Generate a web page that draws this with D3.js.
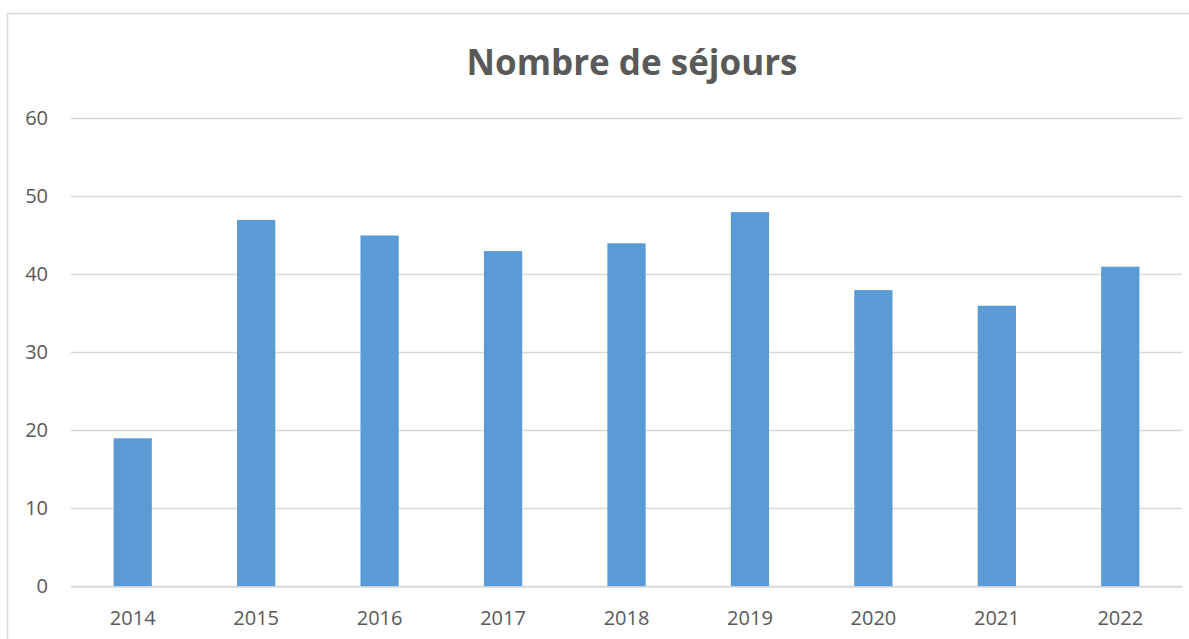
<!DOCTYPE html>
<html>
<head>
<meta charset="utf-8">
<script src="https://cdn.jsdelivr.net/npm/d3@7"></script>
<style>
  body { margin: 0; background: #fff; }
  text { font-family: "Open Sans", sans-serif; fill: #595959; }
</style>
</head>
<body>
<svg width="1189" height="639"></svg>
<script>
// donnees
var years = ["2014", "2015", "2016", "2017", "2018", "2019", "2020", "2021", "2022"];
var sejours = [19, 47, 45, 43, 44, 48, 38, 36, 41];
var yTicks = [0, 10, 20, 30, 40, 50, 60];

var svg = d3.select("svg");

// cadre du graphique
svg.append("rect")
    .attr("x", 7.5)
    .attr("y", 13.5)
    .attr("width", 1300)
    .attr("height", 700)
    .attr("fill", "none")
    .attr("stroke", "#d9d9d9")
    .attr("stroke-width", 1.5);

var x = d3.scaleBand().domain(years).range([71, 1182])
    .paddingInner(0.69).paddingOuter(0.345);
var y = d3.scaleLinear().domain([0, 60]).range([586.5, 118.5]);

// grille
svg.append("g")
    .selectAll("line")
    .data(yTicks)
    .enter().append("line")
    .attr("x1", 71)
    .attr("x2", 1182)
    .attr("y1", function (d) { return y(d); })
    .attr("y2", function (d) { return y(d); })
    .attr("stroke", "#d9d9d9")
    .attr("stroke-width", 1.5);

// barres
svg.selectAll(".bar")
    .data(sejours)
    .enter().append("rect")
    .attr("class", "bar")
    .attr("x", function (d, i) { return x(years[i]); })
    .attr("y", function (d) { return y(d); })
    .attr("width", x.bandwidth())
    .attr("height", function (d) { return y(0) - y(d); })
    .attr("fill", "#5b9bd5");

// axe y
var yAxis = svg.append("g")
    .attr("transform", "translate(48,0)")
    .call(d3.axisLeft(y).tickValues(yTicks).tickSize(0).tickPadding(0));
yAxis.select(".domain").remove();
yAxis.selectAll("text")
    .style("font-size", "20px")
    .attr("fill", "#595959");

// axe x
var xAxis = svg.append("g")
    .attr("transform", "translate(0," + y(0) + ")")
    .call(d3.axisBottom(x).tickSize(0).tickPadding(24));
xAxis.select(".domain").attr("stroke", "#d9d9d9").attr("stroke-width", 1.5);
xAxis.selectAll("text")
    .style("font-size", "20px")
    .attr("fill", "#595959");

// titre
svg.append("text")
    .attr("x", 632)
    .attr("y", 75)
    .attr("text-anchor", "middle")
    .style("font-size", "35px")
    .style("font-weight", "bold")
    .text("Nombre de séjours");
</script>
</body>
</html>
